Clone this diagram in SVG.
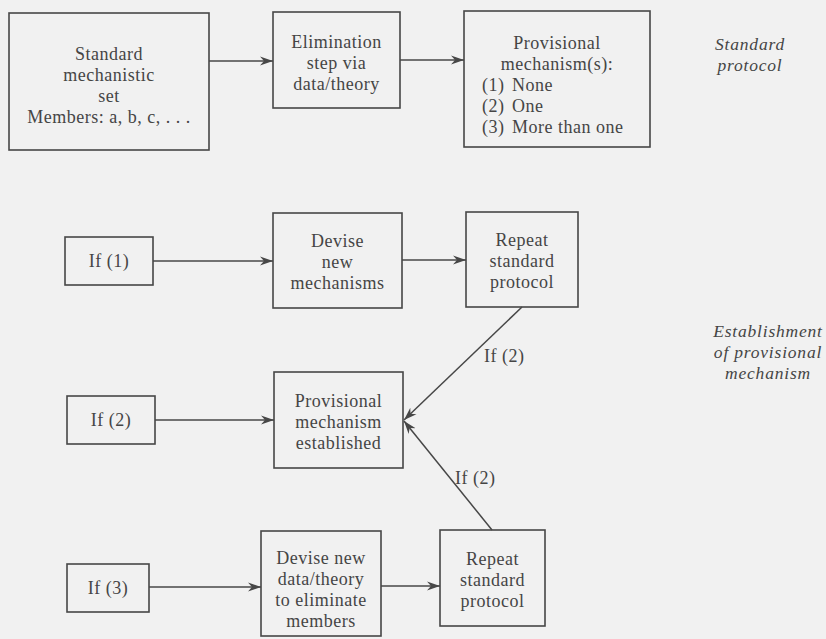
<svg xmlns="http://www.w3.org/2000/svg" width="826" height="639" viewBox="0 0 826 639">
  <style>
    .box { fill: none; stroke: #474747; stroke-width: 1.6; }
    .t { font-size: 18px; text-anchor: middle; letter-spacing: 0.5px; }
    .tl { font-size: 18px; letter-spacing: 0.5px; }
    .it { font-size: 17.5px; font-style: italic; text-anchor: middle; letter-spacing: 0.8px; }
    .edge { fill: none; stroke: #474747; stroke-width: 1.5; marker-end: url(#arrow); }
  </style>
  <defs>
    <marker id="arrow" viewBox="0 0 14 10" refX="13" refY="5" markerWidth="14" markerHeight="10" markerUnits="userSpaceOnUse" orient="auto">
      <path d="M0,0.5 L13,5 L0,9.5 L4,5 Z" fill="#474747"/>
    </marker>
  </defs>
  <rect width="826" height="639" fill="#f1f1f1"/>

  <g font-family="Liberation Serif, Times New Roman, serif" fill="#454545">
  <!-- Standard protocol row -->
  <g id="mechanistic-set">
    <rect class="box" x="9" y="13" width="200" height="137"/>
    <text class="t" x="109" y="60">Standard</text>
    <text class="t" x="109" y="81">mechanistic</text>
    <text class="t" x="109" y="102">set</text>
    <text class="t" x="109" y="123">Members: a, b, c, . . .</text>
  </g>
  <g id="elimination-step">
    <rect class="box" x="273" y="12" width="127" height="96"/>
    <text class="t" x="336.5" y="48">Elimination</text>
    <text class="t" x="336.5" y="69">step via</text>
    <text class="t" x="336.5" y="90">data/theory</text>
  </g>
  <g id="provisional-mechanisms">
    <rect class="box" x="464" y="11" width="186" height="136"/>
    <text class="t" x="557" y="49">Provisional</text>
    <text class="t" x="557" y="70">mechanism(s):</text>
    <text class="tl" y="91"><tspan x="482">(1)</tspan><tspan x="512">None</tspan></text>
    <text class="tl" y="112"><tspan x="482">(2)</tspan><tspan x="512">One</tspan></text>
    <text class="tl" y="133" letter-spacing="0.9"><tspan x="482">(3)</tspan><tspan x="512">More than one</tspan></text>
  </g>
  <g id="label-standard-protocol">
    <text class="it" x="750" y="50">Standard</text>
    <text class="it" x="750" y="71">protocol</text>
  </g>

  <!-- Establishment rows -->
  <g id="if-1">
    <rect class="box" x="65" y="237" width="88" height="48"/>
    <text class="t" x="109" y="267">If (1)</text>
  </g>
  <g id="devise-mechanisms">
    <rect class="box" x="273" y="213" width="129" height="95"/>
    <text class="t" x="337.5" y="247">Devise</text>
    <text class="t" x="337.5" y="268">new</text>
    <text class="t" x="337.5" y="289">mechanisms</text>
  </g>
  <g id="repeat-upper">
    <rect class="box" x="466" y="212" width="112" height="95"/>
    <text class="t" x="522" y="246">Repeat</text>
    <text class="t" x="522" y="267">standard</text>
    <text class="t" x="522" y="288">protocol</text>
  </g>
  <g id="if-2">
    <rect class="box" x="67" y="396" width="88" height="48"/>
    <text class="t" x="111" y="426">If (2)</text>
  </g>
  <g id="mechanism-established">
    <rect class="box" x="274" y="372" width="129" height="96"/>
    <text class="t" x="338.5" y="407">Provisional</text>
    <text class="t" x="338.5" y="428">mechanism</text>
    <text class="t" x="338.5" y="449">established</text>
  </g>
  <g id="if-3">
    <rect class="box" x="67" y="564" width="82" height="48"/>
    <text class="t" x="108" y="594">If (3)</text>
  </g>
  <g id="devise-data">
    <rect class="box" x="261" y="531" width="120" height="105"/>
    <text class="t" x="321" y="564">Devise new</text>
    <text class="t" x="321" y="585">data/theory</text>
    <text class="t" x="321" y="606">to eliminate</text>
    <text class="t" x="321" y="627">members</text>
  </g>
  <g id="repeat-lower">
    <rect class="box" x="440" y="530" width="105" height="96"/>
    <text class="t" x="492.5" y="565">Repeat</text>
    <text class="t" x="492.5" y="586">standard</text>
    <text class="t" x="492.5" y="607">protocol</text>
  </g>
  <g id="label-establishment">
    <text class="it" x="768" y="337">Establishment</text>
    <text class="it" x="768" y="358">of provisional</text>
    <text class="it" x="768" y="379">mechanism</text>
  </g>

  <!-- Connectors -->
  <g id="connectors">
    <line class="edge" x1="209" y1="61" x2="273" y2="61"/>
    <line class="edge" x1="400" y1="60" x2="464" y2="60"/>
    <line class="edge" x1="153" y1="261" x2="273" y2="261"/>
    <line class="edge" x1="402" y1="260" x2="466" y2="260"/>
    <line class="edge" x1="155" y1="420" x2="274" y2="420"/>
    <line class="edge" x1="149" y1="587" x2="261" y2="587"/>
    <line class="edge" x1="381" y1="586" x2="440" y2="586"/>
    <line class="edge" x1="522" y1="307" x2="404" y2="420"/>
    <line class="edge" x1="492" y1="530" x2="404" y2="421"/>
    <text class="tl" x="484" y="362">If (2)</text>
    <text class="tl" x="455" y="484">If (2)</text>
  </g>
  </g>
</svg>
